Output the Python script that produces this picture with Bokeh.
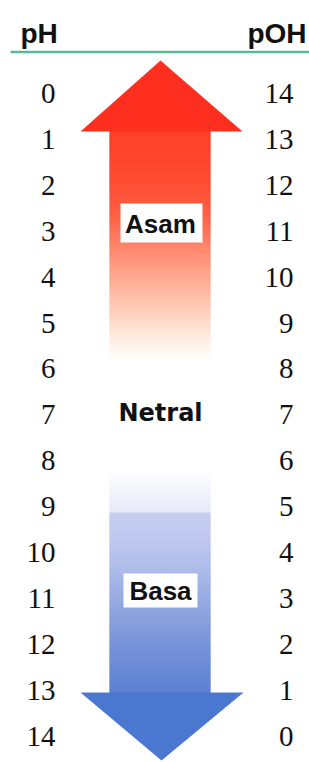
from bokeh.plotting import figure
from bokeh.models import Range1d, ColumnDataSource
from bokeh.core.properties import value
from bokeh.embed import file_html
from bokeh.resources import INLINE

# ---- data ----
ph_values = list(range(0, 15))
poh_values = [14 - v for v in ph_values]
header_left = "pH"
header_right = "pOH"
zone_labels = ["Asam", "Netral", "Basa"]
zone_label_ph = [2.85, 6.97, 10.83]

# ---- helpers: image pixel y -> pH units ----
Y0, DY = 93.0, 45.9
def ph(ypx):
    return (ypx - Y0) / DY

def hex2rgb(h):
    h = h.lstrip("#")
    return tuple(int(h[i:i + 2], 16) for i in (0, 2, 4))

def rgb2hex(c):
    return "#%02x%02x%02x" % tuple(int(round(v)) for v in c)

def interp_color(stops, y):
    for (y1, c1), (y2, c2) in zip(stops[:-1], stops[1:]):
        if y1 <= y <= y2:
            t = 0 if y2 == y1 else (y - y1) / (y2 - y1)
            a, b = hex2rgb(c1), hex2rgb(c2)
            return rgb2hex([a[i] + (b[i] - a[i]) * t for i in range(3)])
    return stops[-1][1]

W, H = 309, 762
p = figure(width=W, height=H, output_backend="svg", toolbar_location=None,
           x_range=Range1d(0, W), y_range=Range1d(ph(H), ph(0)),
           min_border=0)
p.axis.visible = False
p.grid.visible = False
p.outline_line_color = None
p.background_fill_color = "white"
p.border_fill_color = "white"

# header
p.text(x=[20], y=[ph(33)], text=[header_left], text_font=value("Liberation Sans"),
       text_font_style="bold", text_font_size="28px", text_align="left",
       text_baseline="middle", text_color="#111111")
p.text(x=[306], y=[ph(33)], text=[header_right], text_font=value("Liberation Sans"),
       text_font_style="bold", text_font_size="28px", text_align="right",
       text_baseline="middle", text_color="#111111")
p.segment(x0=[10], x1=[309], y0=[ph(51.5)], y1=[ph(51.5)], line_color="#58b995", line_width=2.5)

def strips(stops, y_start, y_end, left, right):
    tops, bots, cols = [], [], []
    y = y_start
    while y < y_end:
        tops.append(ph(y)); bots.append(ph(y + 3.5)); cols.append(interp_color(stops, y + 1))
        y += 2
    p.quad(left=left, right=right, top=tops, bottom=bots, fill_color=cols, line_color=None)

# red arrow shaft (gradient strips)
red_stops = [(128, "#ff3f26"), (180, "#ff4c32"), (215, "#ff6044"), (250, "#ff8a70"),
             (280, "#ffad95"), (310, "#ffceba"), (335, "#ffe9dd"), (355, "#fffaf6"),
             (362, "#ffffff")]
strips(red_stops, 128, 360, 109, 210)
p.patch(x=[80, 160, 242], y=[ph(131), ph(60), ph(131)], fill_color="#ff2f1f", line_color=None)

# blue arrow shaft
blue_stops = [(470, "#ffffff"), (490, "#f3f4fb"), (512, "#e6e9f7"), (513, "#c7cff0"),
              (545, "#bcc6ee"), (575, "#a9b8e8"), (610, "#8fa4df"), (650, "#7590d8"),
              (694, "#5a80d2")]
strips(blue_stops, 470, 692, 109, 210)
p.patch(x=[80, 243, 161], y=[ph(692), ph(692), ph(760)], fill_color="#4a77cf", line_color=None)

# label boxes
p.quad(left=[120, 123], right=[202, 197], top=[ph(203), ph(573)], bottom=[ph(242), ph(607)],
       fill_color="white", line_color=None)

# zone labels
p.text(x=[160, 160], y=[zone_label_ph[0], zone_label_ph[2]], text=[zone_labels[0], zone_labels[2]],
       text_font=value("Liberation Sans"), text_font_style="bold", text_font_size="26px",
       text_align="center", text_baseline="middle", text_color="#111111")
p.text(x=[160], y=[zone_label_ph[1]], text=[zone_labels[1]],
       text_font=value("DejaVu Sans"), text_font_style="bold", text_font_size="24px",
       text_align="center", text_baseline="middle", text_color="#111111")

# numbers
src = ColumnDataSource(dict(y=ph_values, l=[str(v) for v in ph_values], r=[str(v) for v in poh_values]))
p.text(x=55, y="y", text="l", source=src, text_font=value("Liberation Serif"),
       text_font_size="29px", text_align="right", text_baseline="middle", text_color="#111111")
p.text(x=293, y="y", text="r", source=src, text_font=value("Liberation Serif"),
       text_font_size="29px", text_align="right", text_baseline="middle", text_color="#111111")

open("out.html", "w").write(file_html(p, INLINE))
